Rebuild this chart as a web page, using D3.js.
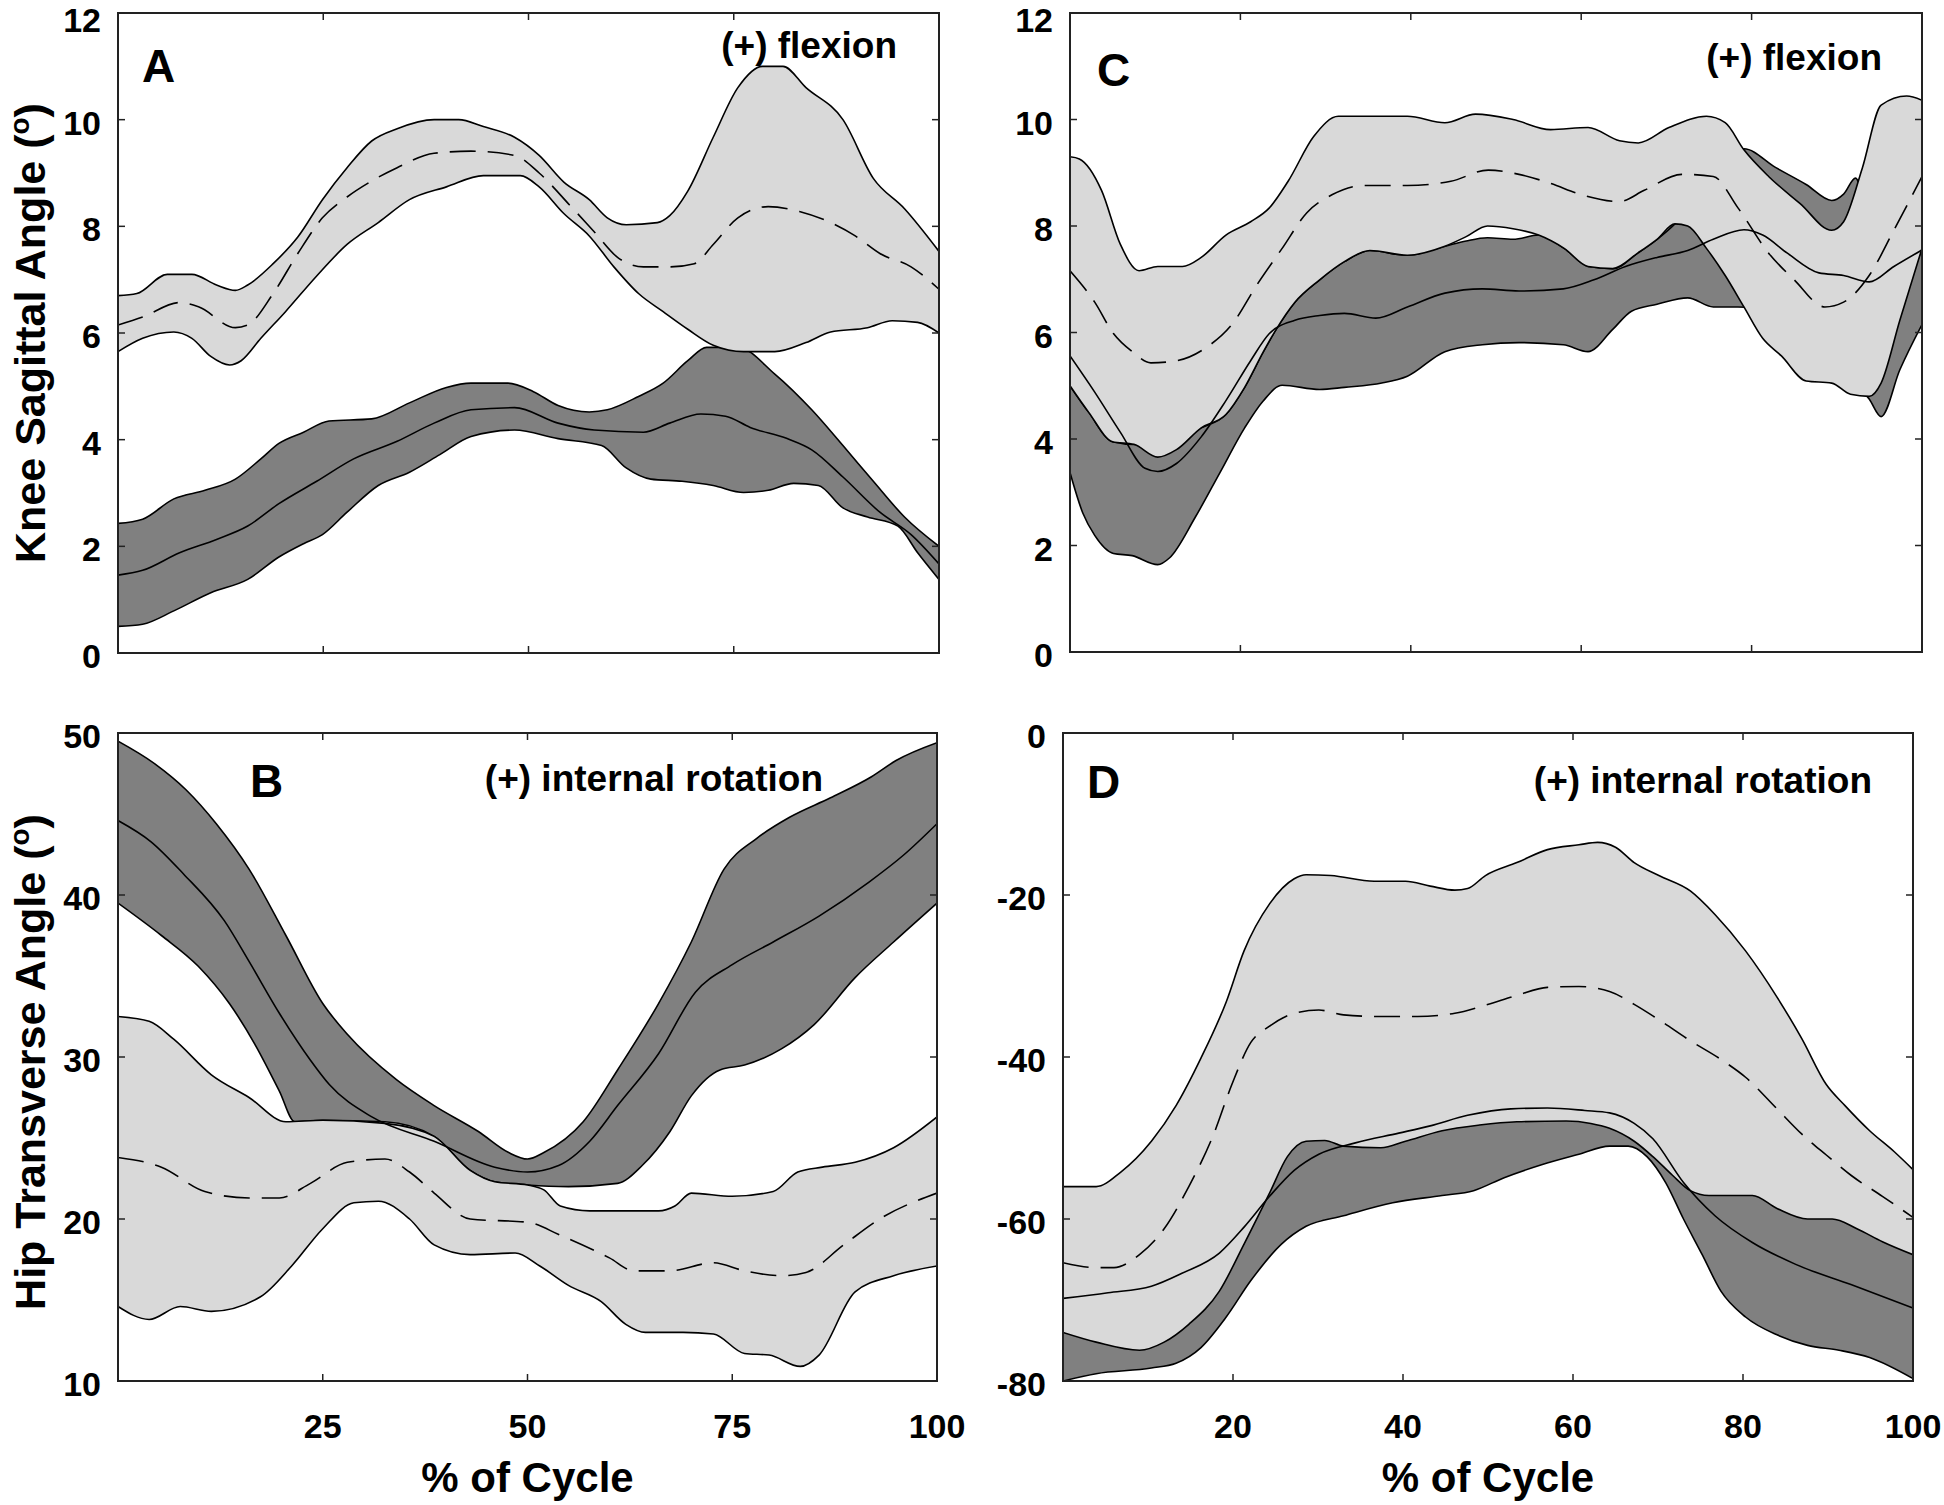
<!DOCTYPE html>
<html><head><meta charset="utf-8">
<script src="https://cdn.jsdelivr.net/npm/d3@7"></script>
<style>
body{margin:0;background:#fff}
svg{display:block}
text{font-family:"Liberation Sans",Arial,Helvetica,sans-serif;font-weight:bold;fill:#000}
</style>
</head><body>
<svg id="chart" width="1944" height="1505"></svg>
<script>
// ---------------- DATA ----------------
// Panel A: Knee sagittal angle (deg)
const A_lightUpper=[[0,6.7],[2.3,6.74],[6,7.1],[9,7.1],[12,6.9],[14.3,6.8],[15.8,6.9],[18.9,7.3],[21.9,7.8],[24.9,8.5],[27.9,9.1],[30.9,9.6],[34,9.83],[38.5,10.0],[41.5,10.0],[44.5,9.87],[48.3,9.67],[51.3,9.33],[54.3,8.83],[57.4,8.5],[59.6,8.16],[61.9,8.03],[65.7,8.07],[67.2,8.2],[69.4,8.66],[72.5,9.67],[75.5,10.6],[78.5,11.0],[81,11.0],[83.8,10.6],[88.3,10.0],[92,8.9],[95.8,8.33],[100,7.53]];
const A_lightMean=[[0,6.15],[3,6.3],[7.5,6.57],[9.8,6.49],[14.3,6.1],[15.8,6.15],[18.9,6.74],[21.9,7.49],[24.9,8.16],[27.9,8.55],[30.9,8.85],[34,9.1],[38.5,9.37],[43,9.41],[48.3,9.33],[51.3,9.0],[55,8.4],[58,7.9],[61,7.4],[64,7.24],[67.2,7.24],[70.2,7.3],[72.5,7.66],[75.5,8.16],[79.2,8.37],[83,8.28],[86.8,8.07],[89.8,7.82],[92.8,7.49],[96.6,7.24],[100,6.82]];
const A_lightLower=[[0,5.65],[3,5.9],[6.8,6.02],[9,5.9],[11.3,5.56],[13.6,5.4],[15,5.48],[17.4,5.9],[20.4,6.4],[24.2,7.07],[27.9,7.66],[31.7,8.07],[35.5,8.5],[40,8.74],[44.5,8.95],[49,8.95],[51.3,8.74],[54.3,8.24],[57.4,7.82],[60.4,7.24],[63.4,6.74],[66.4,6.4],[69.4,6.07],[72.5,5.77],[76.2,5.65],[80,5.65],[83.8,5.82],[86.8,6.02],[91.3,6.1],[94.3,6.23],[97.4,6.2],[100,6.0]];
const A_darkUpper=[[0,2.43],[3,2.51],[6.8,2.89],[10.6,3.05],[14.3,3.26],[17.4,3.64],[19.6,3.93],[22.6,4.14],[25.7,4.35],[30.9,4.39],[35.5,4.69],[40,4.98],[43,5.06],[47.5,5.06],[50.6,4.9],[53.6,4.64],[57.4,4.52],[59.6,4.56],[63.4,4.81],[66.4,5.06],[69.4,5.48],[71.7,5.73],[75.5,5.73],[80,5.23],[84.5,4.56],[88.3,3.89],[92,3.22],[95.8,2.55],[100,2.0]];
const A_darkMean=[[0,1.46],[3,1.55],[7.5,1.88],[12,2.13],[15.8,2.38],[19.6,2.8],[24.2,3.22],[28.7,3.64],[34,3.97],[38.5,4.31],[43,4.56],[48.3,4.6],[53.6,4.31],[58,4.18],[64,4.14],[67.2,4.31],[71,4.48],[74,4.44],[77,4.23],[81.5,4.02],[84.5,3.81],[88.3,3.3],[92.8,2.64],[96.6,2.22],[100,1.67]];
const A_darkLower=[[0,0.5],[3,0.54],[6.8,0.79],[11.3,1.13],[15.8,1.38],[19.6,1.8],[22.6,2.05],[24.9,2.22],[27.9,2.64],[31.7,3.14],[35.5,3.39],[39.2,3.72],[43,4.06],[48.3,4.18],[53.6,4.02],[58.9,3.89],[61.9,3.47],[64.9,3.26],[68.7,3.22],[72.5,3.14],[76.2,3.01],[79.2,3.05],[82.3,3.18],[85.3,3.14],[88.3,2.72],[91.3,2.55],[95,2.38],[97.4,1.88],[100,1.38]];

// Panel B: Hip transverse angle (deg)
const B_lightUpper=[[0,32.5],[3.8,32.2],[6.8,31.1],[11.4,28.9],[16,27.5],[20.5,26],[25,26.1],[32.6,25.9],[38.6,25.1],[43,23.0],[46,22.3],[50,22.1],[52,21.8],[54,20.8],[57.6,20.5],[66,20.5],[68,20.8],[70,21.6],[75,21.4],[80,21.7],[83,22.9],[86,23.2],[90,23.5],[94.7,24.4],[100,26.3]];
const B_lightMean=[[0,23.8],[5.3,23.2],[10.6,21.7],[16,21.3],[19.7,21.3],[23.5,22.2],[28,23.5],[32.6,23.7],[35.6,22.9],[38.6,21.6],[43,20],[50,19.8],[54,19],[60,17.6],[63,16.8],[67.4,16.8],[72.7,17.3],[76.5,16.8],[81,16.5],[84,16.7],[88.6,18.4],[93,20],[100,21.6]];
const B_lightLower=[[0,14.6],[3.8,13.8],[7.6,14.6],[11.4,14.3],[17.4,15.2],[21.2,17.1],[25,19.4],[28.8,21],[31.8,21.1],[35.6,20],[38.6,18.4],[43,17.8],[48.5,17.9],[51.5,17.1],[55,15.9],[59,14.9],[62,13.5],[64.4,13],[69,13],[72.7,12.9],[76.5,11.7],[79.5,11.6],[83.3,10.9],[85.6,11.6],[90,15.5],[94.7,16.5],[100,17.1]];
const B_darkUpper=[[0,49.5],[4.5,48.1],[8.3,46.5],[12,44.4],[16,41.6],[20.5,37.5],[25,33.3],[28,31.4],[34,28.6],[38.6,27],[44,25.4],[47.7,24.1],[50,23.7],[52,24.1],[56.8,26],[61,29.2],[66,33.3],[70,37.1],[74,41.6],[78,43.5],[82,44.8],[87,46],[92,47.3],[95,48.3],[100,49.4]];
const B_darkMean=[[0,44.6],[4,43.3],[8,41.3],[13,38.4],[16,35.9],[19.7,32.7],[23.5,29.8],[25.8,28.3],[31,26.3],[38.6,24.8],[46,23.2],[50,22.9],[53.8,23.3],[57.6,24.8],[61,27],[66,30.2],[70.5,34],[75,35.7],[80,37.1],[85.6,38.7],[91.7,40.8],[96,42.5],[100,44.4]];
const B_darkLower=[[0,39.5],[5.3,37.5],[9.8,35.6],[13.6,33.3],[16.7,30.8],[19.7,27.9],[21.6,26],[25,26.1],[32.6,26],[38.6,25.1],[43,23.0],[46,22.3],[50,22.1],[55,22],[61,22.2],[64,23.3],[67.4,25.4],[70,27.6],[73.5,29.2],[76.5,29.5],[81,30.5],[85,32],[90,34.9],[94.7,37.1],[100,39.5]];

// Panel C: Knee sagittal angle (deg)
const C_lightUpper=[[0,9.3],[1.1,9.26],[3.7,8.67],[5.9,7.66],[8.1,7.16],[10.3,7.24],[13.2,7.24],[15.4,7.41],[18.3,7.83],[21.2,8.08],[23.4,8.34],[25.6,8.84],[28.6,9.68],[31.5,10.06],[39.6,10.06],[44,9.94],[47.6,10.1],[52,10.0],[56.4,9.81],[60.8,9.85],[64.5,9.6],[66.7,9.56],[70.3,9.85],[74.7,10.06],[76.9,9.94],[79.1,9.43],[82,8.93],[85.7,8.42],[89.4,7.92],[90.8,8.08],[93,9.09],[95.2,10.27],[98.2,10.44],[100,10.36]];
const C_lightMean=[[0,7.16],[2.9,6.57],[5.1,5.98],[7.3,5.64],[9.5,5.43],[12.5,5.47],[16.1,5.73],[19,6.15],[22,6.91],[24.9,7.58],[27.8,8.25],[30.8,8.59],[34.4,8.76],[39.6,8.76],[44.7,8.84],[49.1,9.05],[52.7,8.97],[56.4,8.8],[60,8.59],[64.5,8.46],[67.4,8.67],[71.8,8.97],[75.5,8.93],[78.4,8.34],[82,7.49],[85,6.99],[88.6,6.48],[90.8,6.57],[93.8,7.07],[96.7,7.92],[100,8.93]];
const C_lightLower=[[0,5.0],[2.2,4.5],[5,3.95],[7.5,3.9],[10.3,3.66],[12.5,3.8],[15.4,4.21],[18.3,4.46],[20.5,4.97],[22.7,5.64],[24.2,6.06],[26.4,6.57],[29.3,6.99],[32.2,7.33],[35.2,7.54],[39.6,7.45],[44,7.62],[46.5,7.8],[49,8.0],[52,7.95],[55,7.83],[58,7.58],[60.8,7.24],[63.7,7.2],[66.7,7.5],[68.9,7.75],[71,8.04],[72.5,8.0],[74.7,7.58],[76.9,7.07],[79.1,6.48],[81.3,5.89],[83.5,5.56],[86.4,5.09],[89.4,5.05],[91.6,4.84],[93.8,4.8],[95.2,5.05],[97.4,6.23],[100,7.58]];
const C_darkUpper=[[0,5.0],[2.2,4.5],[5,3.95],[7.5,3.9],[10.3,3.9],[12.5,4.0],[15.4,4.21],[18.3,4.46],[20.5,4.97],[22.7,5.64],[24.2,6.06],[26.4,6.57],[29.3,6.99],[32.2,7.33],[35.2,7.54],[39.6,7.45],[44,7.62],[46.5,7.72],[49,7.78],[52,7.75],[55,7.83],[58,7.58],[60.8,7.24],[63.7,7.2],[66.7,7.5],[68.9,7.75],[71,8.04],[74,8.6],[77,9.2],[79.1,9.45],[82.8,9.1],[86.4,8.78],[89.4,8.48],[90.8,8.6],[92.2,8.9],[93.5,8.2],[95.5,6.8],[97.4,6.8],[100,7.58]];
const C_darkMean=[[0,5.56],[2.9,4.88],[5.9,4.13],[8.8,3.45],[10.3,3.39],[12.5,3.54],[15.4,4.04],[18.3,4.72],[21.2,5.47],[23.4,5.98],[26.4,6.23],[29.3,6.32],[32.2,6.36],[35.9,6.27],[39.6,6.48],[44,6.74],[48.4,6.82],[52.7,6.78],[57.9,6.82],[61.5,6.99],[65.2,7.24],[68.9,7.41],[72.5,7.54],[75.5,7.75],[79.1,7.93],[81.3,7.83],[84.2,7.49],[87.9,7.12],[90.8,7.07],[93.8,6.95],[96.7,7.24],[100,7.55]];
const C_darkLower=[[0,3.37],[1.5,2.61],[2.9,2.19],[5.1,1.85],[7.3,1.81],[10.3,1.64],[11.7,1.77],[14.7,2.53],[17.6,3.37],[20.5,4.21],[22.7,4.72],[24.9,5.01],[29.3,4.93],[32.2,4.97],[36.6,5.05],[39.6,5.18],[44,5.64],[48.4,5.77],[52.7,5.81],[57.9,5.77],[60.8,5.64],[63.7,6.06],[65.9,6.4],[68.9,6.53],[72.5,6.65],[75.5,6.48],[78.4,6.48],[82,6.4],[85,6.2],[88,5.8],[91,5.2],[93.8,4.75],[95.2,4.42],[97.4,5.3],[100,6.15]];

// Panel D: Hip transverse angle (deg)
const D_lightUpper=[[0,-56],[3.9,-56],[6.8,-54.2],[10.4,-50.4],[13.3,-46],[16.2,-40.2],[19.2,-33.2],[21.3,-26.9],[24.3,-21.1],[27.2,-18],[28.6,-17.5],[31.5,-17.6],[36.6,-18.3],[40.3,-18.3],[43.2,-18.9],[46.1,-19.4],[47.6,-19.2],[49.7,-17.6],[53.4,-16],[57,-14.4],[60.7,-13.8],[62.9,-13.5],[65,-14.1],[67.2,-16],[70.1,-17.6],[73.8,-19.5],[76.7,-22.4],[80.3,-26.9],[84,-32.6],[86.9,-37.7],[89.8,-43.4],[92,-46],[94.9,-49.1],[97.8,-51.7],[100,-53.9]];
const D_lightMean=[[0,-65.4],[3.9,-66],[6,-66],[9,-64.4],[11.9,-61.2],[14.8,-56],[17.7,-49.6],[19.9,-43.3],[22.1,-38.2],[24.3,-36.2],[27.2,-34.6],[30.1,-34.2],[33,-34.8],[37.4,-35],[41.7,-35],[46.1,-34.6],[49.7,-33.6],[53.4,-32.4],[57,-31.4],[60.7,-31.3],[64.3,-31.9],[67.2,-33.5],[70.1,-35.4],[73.8,-38],[77.4,-40.3],[80.3,-42.5],[84,-46.4],[86.9,-49.5],[89.8,-52.1],[92.7,-54.6],[96.4,-57.2],[100,-59.8]];
const D_lightLower=[[0,-74],[3.9,-75.2],[9,-76.2],[11.9,-75.2],[14.8,-73],[18.4,-68.9],[21.3,-63.1],[24.3,-56.8],[26.4,-52.3],[28.6,-50.4],[30.8,-50.3],[33,-51],[37.4,-51.2],[40.3,-50.4],[44.6,-49.1],[49,-48.4],[53.4,-48],[59.2,-47.9],[62.1,-48.2],[64.3,-48.8],[67.2,-50.4],[69.4,-52.3],[71.7,-54.6],[73.8,-56.5],[76,-57.1],[81.1,-57.1],[84,-58.7],[87.6,-60],[90.5,-60],[93.4,-61.2],[96.4,-62.8],[100,-64.4]];
const D_darkUpper=[[0,-58.8],[10,-57.4],[20,-53],[30,-43.6],[40,-40.5],[50,-37],[60,-40.2],[70,-47],[75,-51.5],[80,-52.5],[90,-58.5],[100,-61.3]];
const D_darkMean=[[0,-69.8],[5.3,-69.1],[10.4,-68.3],[14,-66.7],[18.4,-64.2],[21.3,-61],[24.3,-57.2],[27.2,-54],[30.1,-52],[34.4,-50.6],[39.5,-49.4],[43.2,-48.5],[47.6,-47.2],[52.7,-46.4],[57,-46.3],[61.4,-46.6],[64.3,-46.9],[67.2,-48.2],[69.4,-50.1],[73,-55.5],[76.7,-59.6],[81.1,-62.9],[86.2,-65.6],[92.7,-68.1],[100,-71]];
const D_darkLower=[[0,-80],[3.9,-79.1],[10.4,-78.4],[13.3,-77.8],[16.2,-75.9],[19.2,-72.1],[22.1,-67.6],[25.7,-63.1],[28.6,-60.9],[33,-59.6],[38.8,-58],[44.6,-57.1],[48.3,-56.5],[51.9,-54.9],[56.3,-53.3],[60.7,-52],[64.3,-51],[66.5,-51],[68.7,-52.3],[70.9,-55.5],[73,-60],[75.2,-64.4],[77.4,-68.9],[80.3,-72.1],[84,-74.3],[87.6,-75.6],[91.3,-76.2],[94.9,-77.1],[100,-79.7]];

// Ticks and labels
const kneeYTicks=[0,2,4,6,8,10,12];
const hipBYTicks=[10,20,30,40,50];
const hipDYTicks=[-80,-60,-40,-20,0];
const xTicksLeft=[25,50,75,100];
const xTicksRight=[20,40,60,80,100];
const panelLetters=["A","B","C","D"];
const noteKnee="(+) flexion";
const noteHip="(+) internal rotation";
const yTitleKnee="Knee Sagittal Angle (";
const yTitleHip="Hip Transverse Angle (";
const xTitle="% of Cycle";

// ---------------- DRAW ----------------
const svg=d3.select("#chart");
svg.append("rect").attr("width",1944).attr("height",1505).attr("fill","#fff");

const DARK="#808080", LIGHT="#d9d9d9";

const panels=[
 {key:"A",box:{x0:118,x1:939,y0:13,y1:653},yDomain:[0,12],yTicks:kneeYTicks,xTicks:xTicksLeft,xLabels:false,
  letter:panelLetters[0],letterPos:[142,82],note:noteKnee,notePos:[897,58],
  dark:[A_darkUpper,A_darkMean,A_darkLower],light:[A_lightUpper,A_lightMean,A_lightLower]},
 {key:"B",box:{x0:118,x1:937,y0:733,y1:1381},yDomain:[10,50],yTicks:hipBYTicks,xTicks:xTicksLeft,xLabels:true,
  letter:panelLetters[1],letterPos:[250,797],note:noteHip,notePos:[823,791],
  dark:[B_darkUpper,B_darkMean,B_darkLower],light:[B_lightUpper,B_lightMean,B_lightLower]},
 {key:"C",box:{x0:1070,x1:1922,y0:13,y1:652},yDomain:[0,12],yTicks:kneeYTicks,xTicks:xTicksRight,xLabels:false,
  letter:panelLetters[2],letterPos:[1097,86],note:noteKnee,notePos:[1882,70],
  dark:[C_darkUpper,C_darkMean,C_darkLower],light:[C_lightUpper,C_lightMean,C_lightLower]},
 {key:"D",box:{x0:1063,x1:1913,y0:733,y1:1381},yDomain:[-80,0],yTicks:hipDYTicks,xTicks:xTicksRight,xLabels:true,
  letter:panelLetters[3],letterPos:[1087,798],note:noteHip,notePos:[1872,793],
  dark:[D_darkUpper,D_darkMean,D_darkLower],light:[D_lightUpper,D_lightMean,D_lightLower]}
];

panels.forEach(p=>{
  const b=p.box;
  const xs=d3.scaleLinear().domain([0,100]).range([b.x0,b.x1]);
  const ys=d3.scaleLinear().domain(p.yDomain).range([b.y1,b.y0]);
  const line=d3.line().x(d=>xs(d[0])).y(d=>ys(d[1])).curve(d3.curveMonotoneX);
  const band=(up,lo)=>line(up)+"L"+line(lo.slice().reverse()).slice(1)+"Z";

  const clipId="clip"+p.key;
  svg.append("clipPath").attr("id",clipId).append("rect")
    .attr("x",b.x0).attr("y",b.y0).attr("width",b.x1-b.x0).attr("height",b.y1-b.y0);
  const g=svg.append("g").attr("clip-path",`url(#${clipId})`);

  const [dU,dM,dL]=p.dark, [lU,lM,lL]=p.light;
  // dark band
  g.append("path").attr("d",band(dU,dL)).attr("fill",DARK).attr("stroke","none");
  [dU,dL].forEach(s=>g.append("path").attr("d",line(s)).attr("fill","none").attr("stroke","#000").attr("stroke-width",1.6));
  // light band on top
  g.append("path").attr("d",band(lU,lL)).attr("fill",LIGHT).attr("stroke","none");
  [lU,lL].forEach(s=>g.append("path").attr("d",line(s)).attr("fill","none").attr("stroke","#000").attr("stroke-width",1.6));
  // means
  g.append("path").attr("d",line(dM)).attr("fill","none").attr("stroke","#000").attr("stroke-width",1.6);
  g.append("path").attr("d",line(lM)).attr("fill","none").attr("stroke","#000").attr("stroke-width",1.6).attr("stroke-dasharray","26,12");

  // frame
  svg.append("rect").attr("x",b.x0).attr("y",b.y0).attr("width",b.x1-b.x0).attr("height",b.y1-b.y0)
    .attr("fill","none").attr("stroke","#222").attr("stroke-width",2);
  const TL=7;
  const tg=svg.append("g").attr("stroke","#222").attr("stroke-width",1.5);
  p.yTicks.forEach(v=>{
    const y=ys(v);
    tg.append("line").attr("x1",b.x0).attr("x2",b.x0+TL).attr("y1",y).attr("y2",y);
    tg.append("line").attr("x1",b.x1).attr("x2",b.x1-TL).attr("y1",y).attr("y2",y);
    svg.append("text").attr("x",b.x0-17).attr("y",Math.max(y+3,20)).attr("text-anchor","end")
      .attr("dominant-baseline","central").attr("font-size",34).text(String(v));
  });
  p.xTicks.forEach(v=>{
    const x=xs(v);
    tg.append("line").attr("x1",x).attr("x2",x).attr("y1",b.y1).attr("y2",b.y1-TL);
    tg.append("line").attr("x1",x).attr("x2",x).attr("y1",b.y0).attr("y2",b.y0+TL);
    if(p.xLabels){
      svg.append("text").attr("x",x).attr("y",b.y1+57).attr("text-anchor","middle").attr("font-size",34).text(v);
    }
  });
  if(p.xLabels){
    svg.append("text").attr("x",(b.x0+b.x1)/2).attr("y",1492).attr("text-anchor","middle").attr("font-size",42).text(xTitle);
  }
  // panel letter & note
  svg.append("text").attr("x",p.letterPos[0]).attr("y",p.letterPos[1]).attr("font-size",46).text(p.letter);
  svg.append("text").attr("x",p.notePos[0]).attr("y",p.notePos[1]).attr("text-anchor","end").attr("font-size",37).text(p.note);
});

// y axis titles
function yTitle(txt,cy){
  const t=svg.append("text").attr("transform",`translate(45,${cy}) rotate(-90)`).attr("text-anchor","middle").attr("font-size",43);
  t.append("tspan").text(txt);
  t.append("tspan").attr("font-size",28).attr("dy",-16).text("o");
  t.append("tspan").attr("dy",16).text(")");
}
yTitle(yTitleKnee,333);
yTitle(yTitleHip,1062);
</script>
</body></html>
